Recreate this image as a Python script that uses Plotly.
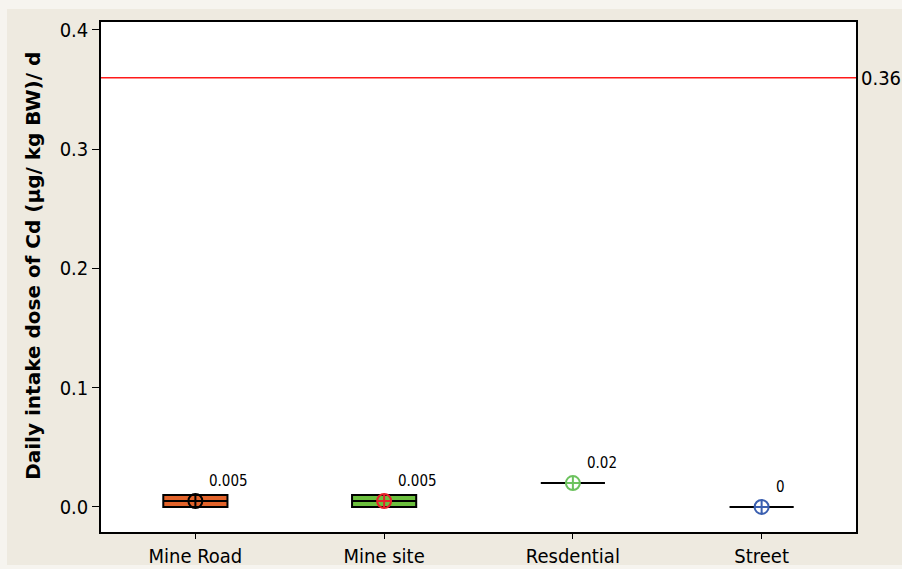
import plotly.graph_objects as go

# Daily intake dose of Cd by sampling site
sites = ["Mine Road", "Mine site", "Resdential", "Street"]
q1_vals = [0.0, 0.0, 0.02, 0.0]
median_vals = [0.005, 0.005, 0.02, 0.0]
q3_vals = [0.01, 0.01, 0.02, 0.0]
mean_vals = [0.005, 0.005, 0.02, 0.0]
mean_labels = ["0.005", "0.005", "0.02", "0"]
box_fill = ["#E2632A", "#6CBF3E", "#6CBF3E", "#3F63B5"]
mean_colors = ["#000000", "#E8202A", "#6CC25E", "#3A5FB0"]
reference_level = 0.36
y_ticks = [0.0, 0.1, 0.2, 0.3, 0.4]
y_title = "Daily intake dose of Cd (µg/ kg BW)/ d"

BEIGE = "#EEEAE0"
FONT = "DejaVu Sans Condensed, DejaVu Sans"
FONT_BOLD = "DejaVu Sans"

fig = go.Figure()

for i, s in enumerate(sites):
    fig.add_trace(go.Box(
        x=[s], q1=[q1_vals[i]], median=[median_vals[i]], q3=[q3_vals[i]],
        lowerfence=[q1_vals[i]], upperfence=[q3_vals[i]],
        fillcolor=box_fill[i], line=dict(color="black", width=2),
        width=0.34, whiskerwidth=0, boxpoints=False, showlegend=False,
        hoverinfo="skip",
    ))

for i, s in enumerate(sites):
    fig.add_trace(go.Scatter(
        x=[s], y=[mean_vals[i]], mode="markers",
        marker=dict(symbol="circle-cross-open", size=14,
                    color=mean_colors[i], line=dict(width=2, color=mean_colors[i])),
        showlegend=False, hoverinfo="skip",
    ))
    fig.add_annotation(
        x=s, y=mean_vals[i], text=mean_labels[i], showarrow=False,
        xanchor="left", yanchor="middle", xshift=12, yshift=20,
        font=dict(family=FONT, size=15, color="black"),
    )

# Reference line with its value on the right
fig.add_hline(y=reference_level, line=dict(color="#FF1A1A", width=1.5))
fig.add_annotation(
    x=1.0, xref="paper", y=reference_level, text=f"{reference_level:g}",
    showarrow=False, xanchor="left", yanchor="middle", xshift=3,
    font=dict(family=FONT, size=20, color="black"),
)

# Vertical axis title
fig.add_annotation(
    x=-0.090, xref="paper", y=0.522, yref="paper", text=f"<b>{y_title}</b>",
    textangle=-90, showarrow=False, xanchor="center", yanchor="middle",
    font=dict(family=FONT_BOLD, size=20, color="black"),
)

# Page frame: pale outer edge, beige surround, white plot area
fig.add_shape(type="rect", xref="paper", yref="paper",
              x0=-0.1245, x1=1.07, y0=-0.0647, y1=1.0255,
              fillcolor=BEIGE, line_width=0, layer="below")
fig.add_shape(type="rect", xref="paper", yref="paper",
              x0=0, x1=1, y0=0, y1=1,
              fillcolor="white", line_width=0, layer="below")

fig.update_layout(
    width=902, height=569,
    margin=dict(l=101, r=46, t=22, b=37),
    paper_bgcolor="#F6F4EF", plot_bgcolor=BEIGE,
    font=dict(family=FONT, size=20, color="black"),
    boxmode="overlay",
)
fig.update_xaxes(
    type="category", categoryorder="array", categoryarray=sites,
    range=[-0.5, 3.5], showgrid=False, zeroline=False, automargin=False,
    showline=True, linecolor="black", linewidth=1.5, mirror=True,
    ticks="outside", ticklen=5, tickcolor="black", tickwidth=1.2,
    tickfont=dict(family=FONT, size=20),
)
fig.update_yaxes(
    range=[-0.021, 0.4067], tickvals=y_ticks,
    ticktext=[f"{v:.1f}" for v in y_ticks],
    showgrid=False, zeroline=False, automargin=False,
    showline=True, linecolor="black", linewidth=1.5, mirror=True,
    ticks="outside", ticklen=7, tickcolor="black", tickwidth=1.2,
    tickfont=dict(family=FONT, size=20),
)

fig.write_html("out.html")
